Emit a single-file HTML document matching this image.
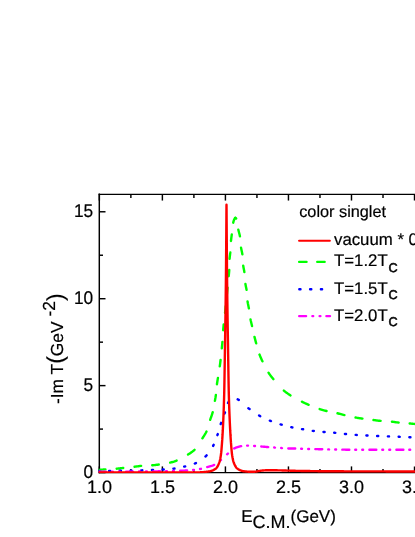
<!DOCTYPE html>
<html><head><meta charset="utf-8"><title>-Im T vs E_C.M.</title>
<style>
html,body{margin:0;padding:0;background:#fff;}
body{width:415px;height:537px;overflow:hidden;}
svg{display:block;will-change:transform;}
text{text-rendering:geometricPrecision;stroke:#000;stroke-width:0.2px;font-family:"Liberation Sans",sans-serif;fill:#000;}
</style></head>
<body>
<svg width="415" height="537" viewBox="0 0 415 537">
<rect width="415" height="537" fill="#fff"/>
<g stroke="#000" stroke-width="1.45" fill="none">
<path d="M99.30 193.62 V473.33" />
<path d="M98.58 194.35 H417" />
<path d="M98.58 472.60 H417" />
<path d="M99.35 194.35 v6.20"/>
<path d="M99.35 472.60 v-6.20"/>
<path d="M130.87 194.35 v3.70"/>
<path d="M130.87 472.60 v-3.70"/>
<path d="M162.38 194.35 v6.20"/>
<path d="M162.38 472.60 v-6.20"/>
<path d="M193.90 194.35 v3.70"/>
<path d="M193.90 472.60 v-3.70"/>
<path d="M225.42 194.35 v6.20"/>
<path d="M225.42 472.60 v-6.20"/>
<path d="M256.94 194.35 v3.70"/>
<path d="M256.94 472.60 v-3.70"/>
<path d="M288.45 194.35 v6.20"/>
<path d="M288.45 472.60 v-6.20"/>
<path d="M319.97 194.35 v3.70"/>
<path d="M319.97 472.60 v-3.70"/>
<path d="M351.49 194.35 v6.20"/>
<path d="M351.49 472.60 v-6.20"/>
<path d="M383.01 194.35 v3.70"/>
<path d="M383.01 472.60 v-3.70"/>
<path d="M414.52 194.35 v6.20"/>
<path d="M414.52 472.60 v-6.20"/>
<path d="M99.30 472.55 h6.20"/>
<path d="M99.30 429.09 h3.70"/>
<path d="M99.30 385.62 h6.20"/>
<path d="M99.30 342.16 h3.70"/>
<path d="M99.30 298.70 h6.20"/>
<path d="M99.30 255.24 h3.70"/>
<path d="M99.30 211.77 h6.20"/>
</g>
<g>
<text x="99.45" y="492.6" font-size="18" text-anchor="middle">1.0</text>
<text x="162.48" y="492.6" font-size="18" text-anchor="middle">1.5</text>
<text x="225.52" y="492.6" font-size="18" text-anchor="middle">2.0</text>
<text x="288.56" y="492.6" font-size="18" text-anchor="middle">2.5</text>
<text x="351.59" y="492.6" font-size="18" text-anchor="middle">3.0</text>
<text x="414.62" y="492.6" font-size="18" text-anchor="middle">3.5</text>
<text transform="translate(93.2 477.85) scale(1 1.07)" font-size="17.3" text-anchor="end">0</text>
<text transform="translate(93.2 390.93) scale(1 1.07)" font-size="17.3" text-anchor="end">5</text>
<text transform="translate(93.2 304.00) scale(1 1.07)" font-size="17.3" text-anchor="end">10</text>
<text transform="translate(93.2 217.07) scale(1 1.07)" font-size="17.3" text-anchor="end">15</text>
<text x="299.2" y="217.2" font-size="16.3">color singlet</text>
<text x="334.0" y="245.4" font-size="16.8">vacuum * 0.2</text>
<text x="334.0" y="266.3" font-size="16.8">T=1.2T<tspan dx="0.9" dy="5.8" font-size="12.7" stroke-width="0.55">C</tspan></text>
<text x="334.0" y="293.5" font-size="16.8">T=1.5T<tspan dx="0.9" dy="5.8" font-size="12.7" stroke-width="0.55">C</tspan></text>
<text x="334.0" y="320.6" font-size="16.8">T=2.0T<tspan dx="0.9" dy="5.8" font-size="12.7" stroke-width="0.55">C</tspan></text>
<text x="241.2" y="521.5" font-size="17">E<tspan dy="6.0" font-size="18">C.M.</tspan><tspan dy="-6.0" font-size="17">(GeV)</tspan></text>
<text transform="translate(63.1 404.1) rotate(-90)" font-size="17.4">-Im T<tspan font-size="23">(</tspan>GeV <tspan dy="-7.7">-2</tspan><tspan dy="7.7" font-size="23">)</tspan></text>
</g>
<clipPath id="plotclip"><rect x="98.6" y="190" width="330" height="283.2"/></clipPath>
<g fill="none" clip-path="url(#plotclip)">
<path d="M98.81 469.89 L99.58 469.83 L100.35 469.76 L101.12 469.70 L101.89 469.64 L102.66 469.58 L103.43 469.52 L104.21 469.47 L104.98 469.41 L105.42 469.38 M116.66 468.70 L117.43 468.62 L118.20 468.54 L118.97 468.46 L119.73 468.36 L120.50 468.27 L121.27 468.18 L122.04 468.08 L122.81 467.99 L123.24 467.94 M134.56 466.75 L135.33 466.64 L136.09 466.54 L136.86 466.43 L137.62 466.32 L138.39 466.21 L139.16 466.11 L139.92 466.01 L140.69 465.93 L141.13 465.89 M152.27 465.32 L153.04 465.25 L153.81 465.17 L154.57 465.08 L155.34 464.99 L156.11 464.90 L156.88 464.80 L157.65 464.69 L158.41 464.59 L158.74 464.54 M170.17 462.63 L170.92 462.44 L171.67 462.24 L172.42 462.03 L173.16 461.80 L173.91 461.57 L174.64 461.32 L175.38 461.07 L176.10 460.81 L176.62 460.61 M188.02 454.59 L188.87 454.04 L189.71 453.48 L190.55 452.91 L191.38 452.32 L192.19 451.72 L192.98 451.10 L193.75 450.47 L194.48 449.82 L194.56 449.74 M202.40 438.34 L202.94 437.49 L203.49 436.65 L204.03 435.80 L204.57 434.96 L205.08 434.10 L205.58 433.24 L206.05 432.37 L206.49 431.48 M210.15 419.82 L210.48 418.87 L210.81 417.93 L211.15 416.99 L211.48 416.06 L211.81 415.12 L212.13 414.17 L212.44 413.23 L212.72 412.28 L212.75 412.17 M214.89 400.90 L215.01 400.25 L215.12 399.59 L215.24 398.94 L215.35 398.29 L215.47 397.63 L215.57 396.98 L215.68 396.32 L215.78 395.67 L215.87 395.01 M216.93 384.25 L217.04 383.48 L217.15 382.72 L217.27 381.95 L217.39 381.19 L217.52 380.43 L217.65 379.66 L217.77 378.90 L217.90 378.14 L217.92 378.03 M219.76 366.35 L219.86 365.59 L219.97 364.82 L220.07 364.06 L220.17 363.29 L220.26 362.52 L220.36 361.75 L220.45 360.99 L220.54 360.22 L220.57 360.00 M221.81 348.36 L221.89 347.59 L221.96 346.82 L222.04 346.05 L222.11 345.28 L222.19 344.51 L222.26 343.74 L222.32 342.97 L222.39 342.20 L222.42 341.87 M223.18 330.19 L223.24 329.53 L223.29 328.87 L223.34 328.21 L223.40 327.55 L223.46 326.89 L223.52 326.23 L223.58 325.57 L223.64 324.91 L223.70 324.36 M225.06 312.84 L225.14 312.07 L225.22 311.30 L225.30 310.53 L225.38 309.77 L225.46 309.00 L225.53 308.23 L225.61 307.46 L225.68 306.69 L225.74 306.14 M226.90 294.49 L226.98 293.72 L227.06 292.95 L227.13 292.18 L227.21 291.41 L227.29 290.64 L227.36 289.87 L227.44 289.10 L227.52 288.33 L227.57 287.79 M228.70 276.24 L228.77 275.47 L228.85 274.70 L228.93 273.93 L229.00 273.16 L229.07 272.39 L229.14 271.62 L229.19 270.85 L229.24 270.08 L229.25 269.97 M229.56 258.82 L229.63 258.05 L229.71 257.29 L229.80 256.52 L229.90 255.75 L230.00 254.98 L230.10 254.21 L230.20 253.45 L230.29 252.68 L230.31 252.46 M230.99 240.99 L231.07 240.22 L231.15 239.46 L231.24 238.69 L231.33 237.92 L231.43 237.15 L231.53 236.39 L231.63 235.62 L231.73 234.85 L231.77 234.52 M233.22 222.68 L233.40 221.91 L233.60 221.15 L233.84 220.42 L234.11 219.71 L234.45 218.96 L234.92 218.17 L235.40 217.80 L235.92 218.15 L236.16 218.46 M238.33 229.71 L238.51 230.46 L238.70 231.22 L238.90 231.97 L239.10 232.72 L239.30 233.47 L239.49 234.22 L239.67 234.97 L239.84 235.72 L239.94 236.26 M241.05 247.68 L241.19 248.45 L241.34 249.21 L241.50 249.96 L241.66 250.72 L241.83 251.48 L241.99 252.24 L242.14 253.00 L242.28 253.76 L242.37 254.30 M243.22 265.75 L243.34 266.51 L243.47 267.27 L243.61 268.03 L243.76 268.79 L243.91 269.55 L244.06 270.32 L244.20 271.08 L244.33 271.84 L244.36 272.06 M245.44 284.04 L245.55 284.69 L245.67 285.35 L245.80 286.00 L245.93 286.65 L246.07 287.30 L246.20 287.95 L246.33 288.60 L246.45 289.25 L246.56 289.91 M247.56 301.45 L247.70 302.32 L247.85 303.19 L248.02 304.06 L248.20 304.93 L248.38 305.79 L248.56 306.66 L248.73 307.53 L248.90 308.40 M250.53 319.54 L250.68 320.30 L250.85 321.05 L251.02 321.81 L251.20 322.56 L251.38 323.31 L251.56 324.07 L251.74 324.82 L251.92 325.57 L252.02 326.00 M254.49 336.88 L254.68 337.63 L254.87 338.38 L255.06 339.13 L255.25 339.88 L255.45 340.62 L255.65 341.37 L255.85 342.12 L256.05 342.86 L256.17 343.29 M259.50 354.51 L259.82 355.33 L260.14 356.15 L260.48 356.97 L260.83 357.78 L261.19 358.59 L261.55 359.40 L261.92 360.20 L262.30 361.01 L262.44 361.31 M268.51 372.70 L269.06 373.52 L269.63 374.33 L270.22 375.14 L270.82 375.93 L271.43 376.72 L272.04 377.51 L272.67 378.29 L273.29 379.07 L273.36 379.15 M283.87 390.61 L284.63 391.23 L285.42 391.84 L286.21 392.45 L287.02 393.04 L287.84 393.62 L288.66 394.18 L289.49 394.74 L290.33 395.29 L290.51 395.41 M301.92 401.70 L302.71 402.09 L303.51 402.47 L304.31 402.85 L305.11 403.22 L305.91 403.59 L306.72 403.96 L307.53 404.32 L308.33 404.67 L308.64 404.80 M319.65 409.07 L320.50 409.33 L321.34 409.59 L322.19 409.84 L323.04 410.08 L323.89 410.31 L324.75 410.54 L325.61 410.77 L326.46 410.98 L326.57 411.01 M337.49 413.28 L338.35 413.49 L339.20 413.72 L340.05 413.94 L340.91 414.18 L341.76 414.41 L342.61 414.64 L343.47 414.86 L344.32 415.09 L344.43 415.11 M355.55 417.53 L356.42 417.68 L357.29 417.83 L358.16 417.97 L359.03 418.11 L359.90 418.25 L360.78 418.39 L361.65 418.52 L362.42 418.63 M373.48 420.05 L374.36 420.16 L375.24 420.27 L376.11 420.38 L376.99 420.49 L377.87 420.59 L378.75 420.69 L379.62 420.79 L380.50 420.88 L380.61 420.89 M391.95 421.72 L392.72 421.81 L393.49 421.91 L394.26 422.01 L395.02 422.11 L395.79 422.21 L396.56 422.32 L397.32 422.42 L398.09 422.51 L398.64 422.58 M409.64 423.50 L410.41 423.57 L411.18 423.64 L411.95 423.71 L412.72 423.78 L413.49 423.85 L414.26 423.93 L415.03 424.00 L415.80 424.08 L416.24 424.12" stroke="#00ff00" stroke-width="2.40" stroke-linecap="round"/>
<path d="M98.33 471.04 L98.45 471.04 L98.58 471.04 L98.70 471.04 L98.83 471.04 L98.95 471.04 L99.07 471.04 L99.20 471.04 L99.32 471.04 L99.45 471.04 M109.06 470.95 L109.19 470.95 L109.31 470.95 L109.43 470.95 L109.56 470.95 L109.68 470.95 L109.81 470.95 L109.93 470.95 L110.06 470.94 L110.18 470.94 M119.79 470.81 L119.92 470.81 L120.04 470.80 L120.17 470.80 L120.29 470.80 L120.41 470.80 L120.54 470.80 L120.66 470.79 L120.79 470.79 L120.91 470.79 M130.52 470.61 L130.65 470.60 L130.77 470.60 L130.90 470.60 L131.02 470.60 L131.14 470.59 L131.27 470.59 L131.39 470.59 L131.52 470.58 L131.64 470.58 M141.19 470.36 L141.32 470.35 L141.44 470.35 L141.56 470.35 L141.69 470.34 L141.81 470.34 L141.94 470.34 L142.06 470.33 L142.18 470.33 L142.31 470.32 M151.92 470.01 L152.04 470.01 L152.17 470.00 L152.29 470.00 L152.41 470.00 L152.54 469.99 L152.66 469.99 L152.79 469.98 L152.91 469.98 L153.03 469.97 M162.64 469.57 L162.77 469.56 L162.89 469.56 L163.01 469.55 L163.14 469.54 L163.26 469.54 L163.39 469.53 L163.51 469.52 L163.63 469.51 L163.76 469.51 M173.40 468.70 L173.52 468.69 L173.65 468.67 L173.77 468.66 L173.89 468.64 L174.01 468.63 L174.14 468.61 L174.26 468.59 L174.38 468.58 L174.51 468.56 M184.13 466.66 L184.25 466.64 L184.37 466.61 L184.49 466.58 L184.61 466.55 L184.73 466.52 L184.85 466.49 L184.97 466.47 L185.09 466.44 L185.22 466.41 M194.81 463.55 L194.92 463.50 L195.03 463.45 L195.14 463.41 L195.26 463.36 L195.37 463.31 L195.48 463.27 L195.59 463.22 L195.70 463.17 L195.81 463.12 L195.92 463.07 M205.48 456.50 L205.61 456.38 L205.74 456.25 L205.87 456.13 L206.00 456.00 L206.12 455.88 L206.25 455.75 L206.37 455.62 L206.50 455.49 L206.62 455.36 M213.11 445.97 L213.16 445.86 L213.22 445.75 L213.28 445.64 L213.33 445.53 L213.39 445.43 L213.44 445.32 L213.50 445.21 L213.55 445.10 L213.60 444.99 L213.66 444.88 L213.68 444.83 M217.40 435.20 L217.44 435.09 L217.48 434.97 L217.52 434.85 L217.56 434.73 L217.59 434.62 L217.63 434.50 L217.67 434.38 L217.71 434.26 L217.75 434.15 L217.79 434.03 M220.70 424.02 L220.74 423.90 L220.78 423.78 L220.81 423.66 L220.85 423.55 L220.89 423.43 L220.93 423.31 L220.97 423.19 L221.01 423.07 L221.05 422.96 L221.09 422.84 M224.59 413.49 L224.63 413.37 L224.68 413.25 L224.72 413.14 L224.76 413.02 L224.80 412.90 L224.84 412.78 L224.88 412.67 L224.92 412.55 L224.96 412.43 L224.98 412.37 M227.99 403.00 L228.04 402.89 L228.10 402.79 L228.15 402.68 L228.21 402.58 L228.26 402.47 L228.32 402.37 L228.37 402.27 L228.43 402.16 L228.49 402.06 L228.56 401.95 L228.62 401.84 M237.68 399.35 L237.79 399.41 L237.90 399.46 L238.01 399.51 L238.12 399.56 L238.22 399.61 L238.33 399.66 L238.44 399.71 L238.54 399.77 L238.65 399.82 L238.75 399.87 L238.81 399.90 M248.36 408.19 L248.51 408.30 L248.66 408.42 L248.80 408.53 L248.95 408.64 L249.10 408.75 L249.25 408.86 L249.40 408.97 L249.55 409.08 M259.08 415.49 L259.19 415.56 L259.30 415.62 L259.40 415.68 L259.51 415.74 L259.62 415.80 L259.73 415.86 L259.83 415.92 L259.94 415.98 L260.05 416.04 L260.16 416.10 L260.26 416.16 M269.82 420.63 L269.94 420.67 L270.05 420.72 L270.17 420.77 L270.28 420.81 L270.40 420.86 L270.51 420.90 L270.63 420.95 L270.74 420.99 L270.86 421.04 L270.97 421.08 M280.54 424.36 L280.66 424.40 L280.78 424.43 L280.90 424.47 L281.02 424.51 L281.14 424.54 L281.26 424.58 L281.37 424.61 L281.49 424.65 L281.61 424.68 L281.73 424.72 M291.28 427.19 L291.40 427.22 L291.52 427.24 L291.65 427.27 L291.77 427.29 L291.89 427.32 L292.01 427.34 L292.13 427.37 L292.25 427.39 L292.37 427.42 M302.03 429.10 L302.15 429.13 L302.28 429.15 L302.40 429.17 L302.52 429.19 L302.64 429.21 L302.76 429.23 L302.89 429.25 L303.01 429.27 L303.13 429.29 M312.75 430.84 L312.87 430.86 L312.99 430.87 L313.12 430.89 L313.24 430.90 L313.36 430.92 L313.49 430.94 L313.61 430.95 L313.73 430.97 L313.85 430.98 M323.48 431.96 L323.61 431.97 L323.73 431.98 L323.85 431.99 L323.98 432.00 L324.10 432.01 L324.23 432.02 L324.35 432.03 L324.47 432.04 L324.60 432.05 M334.19 432.75 L334.31 432.77 L334.43 432.78 L334.56 432.79 L334.68 432.80 L334.80 432.81 L334.93 432.82 L335.05 432.83 L335.17 432.84 L335.30 432.86 M344.91 433.95 L345.04 433.96 L345.16 433.98 L345.28 433.99 L345.41 434.00 L345.53 434.01 L345.66 434.02 L345.78 434.04 L345.90 434.05 L346.03 434.06 M355.67 434.87 L355.79 434.88 L355.92 434.89 L356.04 434.90 L356.16 434.90 L356.29 434.91 L356.41 434.92 L356.54 434.93 L356.66 434.94 L356.78 434.94 M366.38 435.47 L366.51 435.48 L366.63 435.49 L366.76 435.49 L366.88 435.50 L367.00 435.51 L367.13 435.51 L367.25 435.52 L367.38 435.52 L367.50 435.53 M377.11 435.98 L377.23 435.98 L377.35 435.99 L377.48 435.99 L377.60 436.00 L377.73 436.01 L377.85 436.01 L377.97 436.02 L378.10 436.02 L378.22 436.03 M387.89 436.38 L388.02 436.39 L388.14 436.39 L388.26 436.40 L388.39 436.40 L388.51 436.41 L388.64 436.41 L388.76 436.42 L388.88 436.42 L389.01 436.43 M398.62 436.78 L398.74 436.79 L398.87 436.79 L398.99 436.80 L399.11 436.80 L399.24 436.81 L399.36 436.81 L399.49 436.82 L399.61 436.82 L399.73 436.83 M409.34 437.28 L409.46 437.29 L409.59 437.29 L409.71 437.30 L409.83 437.30 L409.96 437.31 L410.08 437.31 L410.21 437.31 L410.33 437.32 L410.45 437.32 M419.94 437.59 L420.00 437.59 L420.07 437.59 L420.13 437.59 L420.19 437.59 L420.25 437.60 L420.31 437.60 L420.38 437.60 L420.44 437.60 L420.50 437.60" stroke="#0000ff" stroke-width="2.40" stroke-linecap="round"/>
<path d="M99.05 471.70 L99.93 471.70 L100.81 471.70 L101.69 471.70 L102.57 471.70 L103.44 471.70 L104.32 471.69 L105.20 471.69 L106.02 471.69 M111.95 471.68 L112.06 471.68 L112.17 471.68 L112.28 471.67 L112.39 471.67 L112.50 471.67 L112.61 471.67 L112.72 471.67 L112.83 471.67 M118.98 471.65 L119.09 471.65 L119.19 471.65 L119.30 471.65 L119.41 471.65 L119.52 471.65 L119.63 471.65 L119.74 471.65 L119.80 471.65 M126.11 471.62 L126.93 471.61 L127.76 471.61 L128.58 471.61 L129.40 471.60 L130.23 471.60 L131.05 471.59 L131.87 471.59 L132.70 471.59 L133.03 471.58 M139.01 471.54 L139.12 471.54 L139.23 471.54 L139.34 471.54 L139.45 471.54 L139.56 471.54 L139.67 471.54 L139.78 471.54 L139.83 471.54 M146.03 471.48 L146.14 471.48 L146.25 471.48 L146.36 471.47 L146.47 471.47 L146.58 471.47 L146.69 471.47 L146.80 471.47 L146.86 471.47 M153.11 471.40 L153.99 471.38 L154.87 471.37 L155.75 471.36 L156.62 471.35 L157.50 471.34 L158.38 471.32 L159.26 471.31 L160.08 471.30 M166.06 471.19 L166.17 471.18 L166.28 471.18 L166.39 471.18 L166.50 471.18 L166.61 471.17 L166.72 471.17 L166.83 471.17 L166.89 471.17 M173.03 471.00 L173.14 471.00 L173.25 471.00 L173.36 470.99 L173.47 470.99 L173.58 470.99 L173.69 470.98 L173.80 470.98 L173.91 470.98 M180.16 470.77 L181.04 470.74 L181.92 470.70 L182.79 470.66 L183.67 470.62 L184.55 470.58 L185.43 470.53 L186.30 470.48 L187.12 470.44 M193.09 469.97 L193.20 469.96 L193.31 469.95 L193.42 469.94 L193.52 469.93 L193.63 469.91 L193.74 469.90 L193.85 469.89 L193.91 469.88 M200.04 468.97 L200.15 468.95 L200.26 468.93 L200.36 468.91 L200.47 468.89 L200.58 468.86 L200.68 468.84 L200.79 468.82 L200.90 468.79 M207.20 467.05 L208.06 466.83 L208.92 466.60 L209.79 466.37 L210.64 466.13 L211.49 465.88 L212.32 465.61 L213.13 465.32 L213.91 464.99 L214.16 464.88 M220.10 460.62 L220.19 460.55 L220.27 460.48 L220.36 460.41 L220.44 460.35 L220.53 460.28 L220.61 460.21 L220.70 460.14 L220.78 460.07 L220.87 460.00 L220.95 459.93 M227.11 454.29 L227.19 454.22 L227.27 454.15 L227.35 454.07 L227.43 453.99 L227.51 453.92 L227.59 453.84 L227.67 453.76 L227.75 453.69 L227.82 453.61 L227.90 453.53 L227.94 453.49 M234.23 448.45 L235.04 448.08 L235.86 447.73 L236.68 447.41 L237.51 447.13 L238.34 446.85 L239.19 446.59 L240.04 446.35 L240.90 446.16 L241.17 446.11 M247.12 445.60 L247.23 445.60 L247.34 445.60 L247.45 445.60 L247.56 445.60 L247.67 445.60 L247.78 445.60 L247.89 445.61 L248.00 445.61 M254.14 445.98 L254.25 445.99 L254.36 446.00 L254.47 446.00 L254.58 446.01 L254.68 446.02 L254.79 446.03 L254.90 446.03 L254.96 446.04 M261.25 446.51 L262.13 446.58 L263.00 446.65 L263.88 446.73 L264.75 446.80 L265.63 446.87 L266.50 446.95 L267.38 447.02 L268.20 447.09 M274.16 447.53 L274.27 447.54 L274.38 447.55 L274.49 447.56 L274.60 447.56 L274.71 447.57 L274.82 447.58 L274.93 447.59 L274.99 447.59 M281.17 448.04 L281.28 448.05 L281.39 448.05 L281.50 448.06 L281.61 448.07 L281.72 448.08 L281.83 448.08 L281.94 448.09 L281.99 448.09 M288.29 448.43 L289.12 448.45 L289.94 448.47 L290.76 448.48 L291.59 448.50 L292.41 448.51 L293.23 448.53 L294.06 448.54 L294.88 448.56 L295.21 448.56 M301.19 448.77 L301.30 448.77 L301.41 448.78 L301.52 448.78 L301.63 448.78 L301.74 448.79 L301.85 448.79 L301.96 448.80 L302.01 448.80 M308.21 448.99 L308.32 448.99 L308.43 449.00 L308.54 449.00 L308.65 449.00 L308.76 449.00 L308.87 449.01 L308.98 449.01 L309.03 449.01 M315.34 449.12 L316.17 449.14 L316.99 449.16 L317.81 449.17 L318.64 449.19 L319.46 449.21 L320.28 449.23 L321.10 449.24 L321.93 449.26 L322.26 449.27 M328.24 449.39 L328.35 449.39 L328.46 449.39 L328.57 449.40 L328.68 449.40 L328.79 449.40 L328.90 449.40 L329.01 449.41 L329.06 449.41 M335.21 449.53 L335.32 449.53 L335.43 449.53 L335.54 449.53 L335.65 449.53 L335.76 449.53 L335.87 449.54 L335.97 449.54 L336.08 449.54 M342.34 449.63 L343.22 449.64 L344.10 449.66 L344.97 449.67 L345.85 449.68 L346.73 449.69 L347.61 449.70 L348.49 449.71 L349.31 449.72 M355.24 449.78 L355.35 449.78 L355.46 449.78 L355.57 449.78 L355.68 449.79 L355.79 449.79 L355.90 449.79 L356.01 449.79 L356.12 449.79 M362.26 449.80 L362.37 449.80 L362.48 449.80 L362.59 449.80 L362.70 449.80 L362.81 449.80 L362.92 449.80 L363.03 449.80 L363.09 449.80 M369.40 449.80 L370.22 449.80 L371.04 449.80 L371.87 449.80 L372.69 449.80 L373.51 449.80 L374.34 449.80 L375.16 449.80 L375.98 449.80 L376.31 449.80 M382.30 449.80 L382.40 449.80 L382.51 449.80 L382.62 449.80 L382.73 449.80 L382.84 449.80 L382.95 449.80 L383.06 449.80 L383.12 449.80 M389.27 449.80 L389.38 449.80 L389.48 449.80 L389.59 449.80 L389.70 449.80 L389.81 449.80 L389.92 449.80 L390.03 449.80 L390.14 449.80 M396.40 449.80 L397.28 449.80 L398.16 449.80 L399.03 449.80 L399.91 449.80 L400.79 449.80 L401.67 449.80 L402.55 449.80 L403.37 449.80 M409.30 449.80 L409.41 449.80 L409.52 449.80 L409.63 449.80 L409.74 449.80 L409.85 449.80 L409.96 449.80 L410.07 449.80 L410.18 449.80 M416.32 449.80 L416.43 449.80 L416.54 449.80 L416.65 449.80 L416.76 449.80 L416.87 449.80 L416.98 449.80 L417.09 449.80 L417.15 449.80" stroke="#ff00ff" stroke-width="2.40" stroke-linecap="round"/>
<path d="M97.60 472.41 L99.34 472.41 L101.07 472.41 L102.81 472.41 L104.54 472.41 L106.28 472.41 L108.01 472.41 L109.75 472.41 L111.48 472.41 L113.22 472.41 L114.96 472.41 L116.69 472.41 L118.43 472.41 L120.16 472.41 L121.90 472.41 L123.63 472.41 L125.37 472.41 L127.11 472.41 L128.84 472.41 L130.58 472.41 L132.31 472.41 L134.05 472.41 L135.78 472.41 L137.52 472.41 L139.25 472.41 L140.99 472.41 L142.73 472.41 L144.46 472.41 L146.20 472.41 L147.93 472.41 L149.67 472.41 L151.40 472.41 L153.14 472.41 L154.87 472.41 L156.61 472.41 L158.35 472.41 L160.08 472.41 L161.82 472.41 L163.55 472.41 L165.29 472.41 L167.02 472.41 L168.76 472.41 L170.49 472.41 L172.23 472.41 L173.97 472.41 L175.70 472.41 L177.44 472.41 L179.17 472.41 L180.91 472.41 L182.64 472.41 L184.38 472.41 L186.12 472.41 L187.85 472.41 L189.59 472.41 L191.32 472.41 L193.06 472.41 L194.79 472.41 L196.53 472.41 L198.26 472.39 L200.00 472.33 L200.28 472.31 L200.56 472.30 L200.84 472.28 L201.11 472.27 L201.39 472.25 L201.67 472.23 L201.95 472.21 L202.23 472.19 L202.51 472.17 L202.78 472.15 L203.06 472.12 L203.34 472.10 L203.62 472.08 L203.90 472.05 L204.18 472.02 L204.46 472.00 L204.73 471.97 L205.01 471.94 L205.29 471.91 L205.57 471.88 L205.85 471.85 L206.13 471.82 L206.41 471.78 L206.68 471.75 L206.96 471.71 L207.24 471.68 L207.52 471.64 L207.80 471.61 L208.08 471.57 L208.35 471.53 L208.63 471.49 L208.91 471.45 L209.19 471.41 L209.47 471.37 L209.75 471.33 L210.03 471.28 L210.30 471.22 L210.58 471.16 L210.86 471.08 L211.14 471.00 L211.42 470.92 L211.70 470.82 L211.97 470.72 L212.25 470.62 L212.53 470.50 L212.81 470.38 L213.09 470.25 L213.37 470.11 L213.65 469.97 L213.92 469.81 L214.20 469.65 L214.48 469.49 L214.76 469.31 L215.04 469.13 L215.32 468.94 L215.59 468.74 L215.87 468.53 L216.15 468.29 L216.43 467.99 L216.71 467.66 L216.99 467.28 L217.27 466.85 L217.54 466.38 L217.82 465.87 L218.10 465.31 L218.38 464.71 L218.66 464.08 L218.94 463.40 L219.22 462.68 L219.49 461.87 L219.77 460.90 L220.05 459.74 L220.33 458.39 L220.61 456.86 L220.89 455.12 L221.16 452.93 L221.44 450.07 L221.72 446.72 L222.00 443.02 L222.02 442.72 L222.05 442.40 L222.07 442.09 L222.09 441.78 L222.11 441.47 L222.14 441.15 L222.16 440.84 L222.18 440.52 L222.20 440.21 L222.23 439.89 L222.25 439.56 L222.27 439.24 L222.29 438.91 L222.32 438.57 L222.34 438.23 L222.36 437.88 L222.38 437.54 L222.41 437.18 L222.43 436.82 L222.45 436.46 L222.47 436.10 L222.50 435.73 L222.52 435.35 L222.54 434.97 L222.56 434.59 L222.59 434.20 L222.61 433.81 L222.63 433.42 L222.65 433.02 L222.68 432.61 L222.70 432.20 L222.72 431.79 L222.74 431.37 L222.77 430.95 L222.79 430.53 L222.81 430.10 L222.83 429.66 L222.86 429.22 L222.88 428.78 L222.90 428.33 L222.92 427.88 L222.95 427.43 L222.97 426.97 L222.99 426.50 L223.02 426.03 L223.04 425.56 L223.06 425.08 L223.08 424.60 L223.11 424.12 L223.13 423.64 L223.15 423.16 L223.17 422.67 L223.20 422.18 L223.22 421.69 L223.24 421.19 L223.26 420.69 L223.29 420.19 L223.31 419.68 L223.33 419.17 L223.35 418.65 L223.38 418.13 L223.40 417.60 L223.42 417.07 L223.44 416.53 L223.47 415.99 L223.49 415.44 L223.51 414.88 L223.53 414.32 L223.56 413.75 L223.58 413.17 L223.60 412.59 L223.62 412.00 L223.65 411.40 L223.67 410.79 L223.69 410.17 L223.71 409.55 L223.74 408.91 L223.76 408.27 L223.78 407.62 L223.80 406.95 L223.83 406.28 L223.85 405.60 L223.87 404.90 L223.89 404.20 L223.92 403.48 L223.94 402.76 L223.96 402.02 L223.98 401.27 L224.01 400.51 L224.03 399.73 L224.05 398.94 L224.08 398.14 L224.10 397.33 L224.12 396.50 L224.14 395.66 L224.17 394.80 L224.19 393.90 L224.21 392.96 L224.23 391.98 L224.26 390.96 L224.28 389.90 L224.30 388.81 L224.32 387.68 L224.35 386.52 L224.37 385.33 L224.39 384.11 L224.41 382.87 L224.44 381.59 L224.46 380.30 L224.48 378.98 L224.50 377.63 L224.53 376.27 L224.55 374.89 L224.57 373.49 L224.59 372.07 L224.62 370.64 L224.64 369.20 L224.66 367.74 L224.68 366.27 L224.71 364.80 L224.73 363.32 L224.75 361.83 L224.77 360.34 L224.80 358.84 L224.82 357.35 L224.84 355.85 L224.86 354.36 L224.89 352.86 L224.91 351.38 L224.93 349.89 L224.95 348.42 L224.98 346.96 L225.00 345.50 L225.02 344.06 L225.05 342.62 L225.07 341.19 L225.09 339.76 L225.11 338.34 L225.14 336.92 L225.16 335.50 L225.18 334.08 L225.20 332.66 L225.23 331.24 L225.25 329.81 L225.27 328.37 L225.29 326.93 L225.32 325.48 L225.34 324.02 L225.36 322.55 L225.38 321.07 L225.41 319.57 L225.43 318.05 L225.45 316.52 L225.47 314.97 L225.50 313.40 L225.52 311.81 L225.54 310.20 L225.56 308.57 L225.59 306.90 L225.61 305.22 L225.63 303.50 L225.65 301.76 L225.68 299.98 L225.70 298.18 L225.72 296.33 L225.74 294.46 L225.77 292.55 L225.79 290.60 L225.81 288.61 L225.83 286.58 L225.86 284.51 L225.88 282.38 L225.90 280.18 L225.92 277.91 L225.95 275.58 L225.97 273.18 L225.99 270.73 L226.02 268.21 L226.04 265.64 L226.06 263.01 L226.08 260.32 L226.11 257.59 L226.13 254.80 L226.15 251.96 L226.17 249.08 L226.20 246.15 L226.22 243.17 L226.24 240.16 L226.26 237.10 L226.29 234.00 L226.31 230.87 L226.33 227.69 L226.35 224.49 L226.38 221.25 L226.40 217.98 L226.42 214.69 L226.44 211.36 L226.47 208.01 L226.49 204.64 L226.51 204.64 L226.53 208.01 L226.56 211.36 L226.58 214.69 L226.60 217.98 L226.62 221.25 L226.65 224.49 L226.67 227.69 L226.69 230.86 L226.71 234.00 L226.74 237.10 L226.76 240.16 L226.78 243.17 L226.80 246.15 L226.83 249.08 L226.85 251.96 L226.87 254.80 L226.89 257.59 L226.92 260.32 L226.94 263.01 L226.96 265.64 L226.98 268.21 L227.01 270.73 L227.03 273.18 L227.05 275.58 L227.08 277.91 L227.10 280.18 L227.12 282.38 L227.14 284.51 L227.17 286.58 L227.19 288.61 L227.21 290.60 L227.23 292.55 L227.26 294.46 L227.28 296.33 L227.30 298.17 L227.32 299.98 L227.35 301.76 L227.37 303.50 L227.39 305.22 L227.41 306.90 L227.44 308.56 L227.46 310.20 L227.48 311.81 L227.50 313.40 L227.53 314.97 L227.55 316.52 L227.57 318.05 L227.59 319.56 L227.62 321.06 L227.64 322.55 L227.66 324.02 L227.68 325.48 L227.71 326.93 L227.73 328.37 L227.75 329.81 L227.77 331.23 L227.80 332.66 L227.82 334.08 L227.84 335.50 L227.86 336.92 L227.89 338.34 L227.91 339.76 L227.93 341.18 L227.95 342.61 L227.98 344.05 L228.00 345.50 L228.02 346.95 L228.05 348.42 L228.07 349.89 L228.09 351.37 L228.11 352.86 L228.14 354.35 L228.16 355.85 L228.18 357.34 L228.20 358.84 L228.23 360.33 L228.25 361.83 L228.27 363.31 L228.29 364.80 L228.32 366.27 L228.34 367.74 L228.36 369.19 L228.38 370.63 L228.41 372.07 L228.43 373.48 L228.45 374.88 L228.47 376.26 L228.50 377.63 L228.52 378.97 L228.54 380.29 L228.56 381.59 L228.59 382.86 L228.61 384.11 L228.63 385.33 L228.65 386.51 L228.68 387.67 L228.70 388.80 L228.72 389.89 L228.74 390.95 L228.77 391.97 L228.79 392.95 L228.81 393.89 L228.83 394.80 L228.86 395.66 L228.88 396.50 L228.90 397.32 L228.92 398.14 L228.95 398.94 L228.97 399.72 L228.99 400.50 L229.02 401.26 L229.04 402.01 L229.06 402.75 L229.08 403.47 L229.11 404.19 L229.13 404.89 L229.15 405.59 L229.17 406.27 L229.20 406.94 L229.22 407.61 L229.24 408.26 L229.26 408.90 L229.29 409.54 L229.31 410.16 L229.33 410.78 L229.35 411.39 L229.38 411.99 L229.40 412.58 L229.42 413.16 L229.44 413.74 L229.47 414.31 L229.49 414.87 L229.51 415.43 L229.53 415.98 L229.56 416.52 L229.58 417.06 L229.60 417.59 L229.62 418.12 L229.65 418.64 L229.67 419.15 L229.69 419.67 L229.71 420.17 L229.74 420.68 L229.76 421.18 L229.78 421.67 L229.80 422.17 L229.83 422.66 L229.85 423.14 L229.87 423.63 L229.89 424.11 L229.92 424.59 L229.94 425.07 L229.96 425.55 L229.98 426.02 L230.01 426.49 L230.03 426.95 L230.05 427.41 L230.08 427.87 L230.10 428.32 L230.12 428.76 L230.14 429.21 L230.17 429.65 L230.19 430.08 L230.21 430.51 L230.23 430.94 L230.26 431.36 L230.28 431.77 L230.30 432.19 L230.32 432.60 L230.35 433.00 L230.37 433.40 L230.39 433.80 L230.41 434.19 L230.44 434.57 L230.46 434.96 L230.48 435.34 L230.50 435.71 L230.53 436.08 L230.55 436.45 L230.57 436.81 L230.59 437.16 L230.62 437.52 L230.64 437.87 L230.66 438.21 L230.68 438.55 L230.71 438.89 L230.73 439.22 L230.75 439.54 L230.77 439.87 L230.80 440.19 L230.82 440.50 L230.84 440.82 L230.86 441.13 L230.89 441.45 L230.91 441.76 L230.93 442.07 L230.95 442.38 L230.98 442.69 L231.00 443.00 L231.30 447.02 L231.61 450.61 L231.91 453.57 L232.22 455.74 L232.52 457.54 L232.82 459.11 L233.13 460.46 L233.43 461.58 L233.73 462.50 L234.04 463.28 L234.34 464.02 L234.65 464.71 L234.95 465.35 L235.25 465.95 L235.56 466.49 L235.86 466.98 L236.16 467.42 L236.47 467.80 L236.77 468.13 L237.08 468.40 L237.38 468.63 L237.68 468.84 L237.99 469.05 L238.29 469.24 L238.59 469.43 L238.90 469.60 L239.20 469.77 L239.51 469.93 L239.81 470.08 L240.11 470.22 L240.42 470.35 L240.72 470.48 L241.03 470.59 L241.33 470.69 L241.63 470.79 L241.94 470.88 L242.24 470.96 L242.54 471.03 L242.85 471.09 L243.15 471.15 L243.46 471.19 L243.76 471.23 L244.06 471.27 L244.37 471.31 L244.67 471.34 L244.97 471.38 L245.28 471.42 L245.58 471.45 L245.89 471.48 L246.19 471.51 L246.49 471.54 L246.80 471.57 L247.10 471.60 L247.41 471.63 L247.71 471.65 L248.01 471.68 L248.32 471.70 L248.62 471.72 L248.92 471.74 L249.23 471.76 L249.53 471.77 L249.84 471.79 L250.14 471.80 L250.44 471.81 L250.75 471.81 L251.05 471.81 L251.35 471.82 L251.66 471.81 L251.96 471.81 L252.27 471.81 L252.57 471.80 L252.87 471.79 L253.18 471.78 L253.48 471.76 L253.78 471.75 L254.09 471.73 L254.39 471.71 L254.70 471.69 L255.00 471.66 L255.82 471.58 L256.64 471.45 L257.46 471.30 L258.28 471.13 L259.10 470.97 L259.91 470.82 L260.73 470.69 L261.55 470.59 L262.37 470.53 L263.19 470.47 L264.01 470.42 L264.83 470.37 L265.65 470.32 L266.47 470.29 L267.29 470.25 L268.11 470.23 L268.92 470.21 L269.74 470.20 L270.56 470.20 L271.38 470.21 L272.20 470.22 L273.02 470.23 L273.84 470.24 L274.66 470.26 L275.48 470.27 L276.30 470.29 L277.12 470.31 L277.93 470.33 L278.75 470.35 L279.57 470.37 L280.39 470.39 L281.21 470.40 L282.03 470.43 L282.85 470.45 L283.67 470.47 L284.49 470.50 L285.31 470.52 L286.13 470.55 L286.94 470.58 L287.76 470.60 L288.58 470.63 L289.40 470.66 L290.22 470.68 L291.04 470.71 L291.86 470.73 L292.68 470.75 L293.50 470.78 L294.32 470.80 L295.14 470.81 L295.95 470.83 L296.77 470.85 L297.59 470.87 L298.41 470.88 L299.23 470.90 L300.05 470.91 L300.87 470.93 L301.69 470.94 L302.51 470.96 L303.33 470.97 L304.15 470.98 L304.96 471.00 L305.78 471.01 L306.60 471.02 L307.42 471.04 L308.24 471.05 L309.06 471.06 L309.88 471.07 L310.70 471.08 L311.52 471.09 L312.34 471.11 L313.16 471.12 L313.97 471.13 L314.79 471.14 L315.61 471.15 L316.43 471.16 L317.25 471.17 L318.07 471.18 L318.89 471.19 L319.71 471.20 L320.53 471.21 L321.35 471.22 L322.17 471.23 L322.98 471.23 L323.80 471.24 L324.62 471.24 L325.44 471.25 L326.26 471.25 L327.08 471.26 L327.90 471.26 L328.72 471.27 L329.54 471.27 L330.36 471.27 L331.18 471.28 L331.99 471.28 L332.81 471.29 L333.63 471.29 L334.45 471.29 L335.27 471.30 L336.09 471.30 L336.91 471.30 L337.73 471.31 L338.55 471.31 L339.37 471.31 L340.19 471.31 L341.01 471.32 L341.82 471.32 L342.64 471.32 L343.46 471.32 L344.28 471.33 L345.10 471.33 L345.92 471.33 L346.74 471.33 L347.56 471.34 L348.38 471.34 L349.20 471.34 L350.02 471.34 L350.83 471.35 L351.65 471.35 L352.47 471.35 L353.29 471.35 L354.11 471.35 L354.93 471.36 L355.75 471.36 L356.57 471.36 L357.39 471.36 L358.21 471.36 L359.03 471.37 L359.84 471.37 L360.66 471.37 L361.48 471.37 L362.30 471.37 L363.12 471.38 L363.94 471.38 L364.76 471.38 L365.58 471.38 L366.40 471.38 L367.22 471.38 L368.04 471.39 L368.85 471.39 L369.67 471.39 L370.49 471.39 L371.31 471.39 L372.13 471.40 L372.95 471.40 L373.77 471.40 L374.59 471.40 L375.41 471.40 L376.23 471.41 L377.05 471.41 L377.86 471.41 L378.68 471.41 L379.50 471.41 L380.32 471.41 L381.14 471.42 L381.96 471.42 L382.78 471.42 L383.60 471.42 L384.42 471.42 L385.24 471.42 L386.06 471.43 L386.87 471.43 L387.69 471.43 L388.51 471.43 L389.33 471.43 L390.15 471.43 L390.97 471.43 L391.79 471.44 L392.61 471.44 L393.43 471.44 L394.25 471.44 L395.07 471.44 L395.88 471.44 L396.70 471.44 L397.52 471.45 L398.34 471.45 L399.16 471.45 L399.98 471.45 L400.80 471.45 L401.62 471.45 L402.44 471.45 L403.26 471.45 L404.08 471.46 L404.89 471.46 L405.71 471.46 L406.53 471.46 L407.35 471.46 L408.17 471.46 L408.99 471.46 L409.81 471.46 L410.63 471.46 L411.45 471.46 L412.27 471.47 L413.09 471.47 L413.90 471.47 L414.72 471.47 L415.54 471.47 L416.36 471.47 L417.18 471.47 L418.00 471.47" stroke="#ff0000" stroke-width="2.40" stroke-linejoin="round"/>
</g>
<g fill="none">
<path d="M299.1 240.7 H329.8" stroke="#ff0000" stroke-width="2.15" stroke-linecap="round"/>
<path d="M299.1 261.9 h7.5 m10.6 0 h7.5" stroke="#00ff00" stroke-width="2.3" stroke-linecap="round"/>
<path d="M299.3 289.2 h1.2 m9.6 0 h1.2 m9.6 0 h1.2" stroke="#0000ff" stroke-width="2.40" stroke-linecap="round"/>
<path d="M299.2 316.1 h6.9 m6.3 0 h0.8 m6.4 0 h0.8 m6.0 0 h3.6" stroke="#ff00ff" stroke-width="2.40" stroke-linecap="round"/>
</g>
</svg>
</body></html>
